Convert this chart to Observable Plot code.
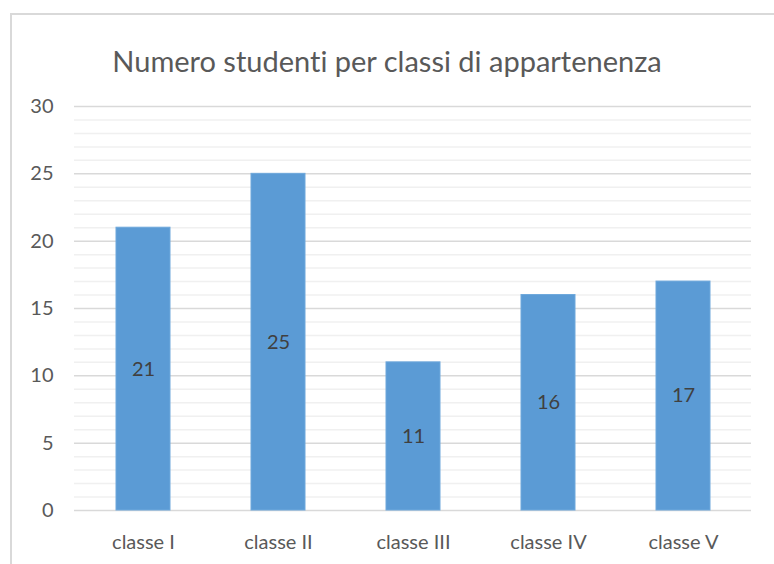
<!DOCTYPE html>
<html>
<head>
<meta charset="utf-8">
<script src="https://cdn.jsdelivr.net/npm/d3@7"></script>
<script src="https://cdn.jsdelivr.net/npm/@observablehq/plot@0.6"></script>
<style>
  html, body { margin: 0; padding: 0; background: #fff; width: 774px; height: 564px; overflow: hidden; }
  #wrap { position: relative; width: 774px; height: 564px; }
  #border { position: absolute; left: 10px; top: 13px; width: 800px; height: 600px; border-top: 2px solid #d9d9d9; border-left: 2px solid #d9d9d9; box-sizing: border-box; }
  #chart { position: absolute; left: 0; top: 0; }
  svg text { font-variant-ligatures: none; font-feature-settings: "liga" 0, "dlig" 0; }
</style>
</head>
<body>
<div id="wrap"><div id="border"></div><div id="chart"></div></div>
<script>
const title = "Numero studenti per classi di appartenenza";
const categories = ["classe I", "classe II", "classe III", "classe IV", "classe V"];
const values = [21, 25, 11, 16, 17];
const majorTicks = [0, 5, 10, 15, 20, 25, 30];
const minorTicks = d3.range(0, 31).filter(v => v % 5 !== 0);

const data = categories.map((c, i) => ({category: c, value: values[i]}));

const plot = Plot.plot({
  width: 774,
  height: 564,
  marginTop: 106,
  marginBottom: 54,
  marginLeft: 74,
  marginRight: 23,
  style: {fontFamily: "Lato, sans-serif", color: "#595959", background: "transparent"},
  x: {domain: categories, paddingInner: 0.6, paddingOuter: 0.3, label: null},
  y: {domain: [0, 30], label: null},
  marks: [
    Plot.ruleY(minorTicks, {stroke: "#f0f0f0", strokeWidth: 1.5}),
    Plot.ruleY(majorTicks, {stroke: "#d9d9d9", strokeWidth: 1.5}),
    Plot.barY(data, {x: "category", y: "value", fill: "#5b9bd5", stroke: "#6ea8dc", strokeWidth: 1}),
    Plot.text(data, {x: "category", y: d => d.value / 2, text: d => String(d.value), fill: "#404040", fontSize: 20}),
    Plot.axisY({ticks: majorTicks, tickSize: 0, tickPadding: 21, fontSize: 20, label: null, fill: "#595959"}),
    Plot.axisX({tickSize: 0, tickPadding: 24, fontSize: 20, label: null, fill: "#595959"}),
    Plot.text([title], {frameAnchor: "top", dx: -26, dy: -44, text: d => d, fontSize: 29, fill: "#595959", lineAnchor: "middle"})
  ]
});
document.getElementById("chart").appendChild(plot);
</script>
</body>
</html>
